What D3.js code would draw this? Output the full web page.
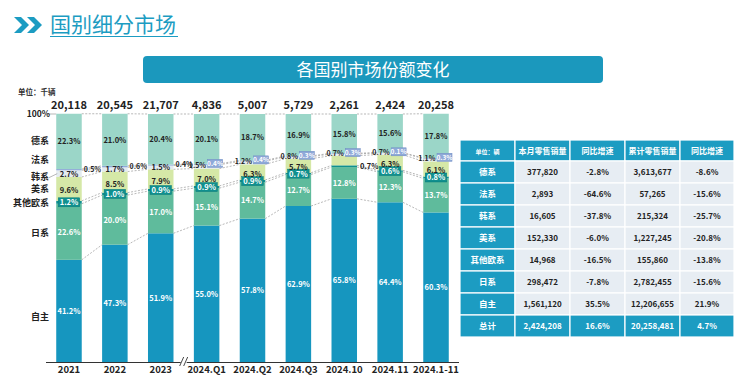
<!DOCTYPE html>
<html>
<head>
<meta charset="utf-8">
<script src="https://cdn.jsdelivr.net/npm/d3@7"></script>
<style>
  body { margin: 0; background: #fff; }
  svg { display: block; font-family: "Noto Sans CJK SC", "Noto Sans", sans-serif; }
</style>
</head>
<body>
<svg id="chart" width="744" height="376"></svg>
<script>
// categories and totals (千辆)
var categories = ["2021", "2022", "2023", "2024.Q1", "2024.Q2", "2024.Q3", "2024.10", "2024.11", "2024.1-11"];
var totals = ["20,118", "20,545", "21,707", "4,836", "5,007", "5,729", "2,261", "2,424", "20,258"];

// shares in %, stacked bottom -> top
var seriesNames = ["自主", "日系", "其他欧系", "美系", "韩系", "法系", "德系"];
var ziZhu   = [41.2, 47.3, 51.9, 55.0, 57.8, 62.9, 65.8, 64.4, 60.3];
var riXi    = [22.6, 20.0, 17.0, 15.1, 14.7, 12.7, 12.8, 12.3, 13.7];
var otherEu = [1.2, 1.0, 0.9, 0.9, 0.9, 0.7, 0.7, 0.6, 0.8];
var meiXi   = [9.6, 8.5, 7.9, 7.0, 6.3, 5.7, 3.9, 6.3, 6.1];
var hanXi   = [2.7, 1.7, 1.5, 1.5, 1.2, 0.8, 0.7, 0.7, 1.1];
var faXi    = [0.5, 0.6, 0.4, 0.4, 0.4, 0.3, 0.3, 0.1, 0.3];
var deXi    = [22.3, 21.0, 20.4, 20.1, 18.7, 16.9, 15.8, 15.6, 17.8];

// table
var tableHeaders = ["单位：辆", "本月零售销量", "同比增速", "累计零售销量", "同比增速"];
var tableRows = ["德系", "法系", "韩系", "美系", "其他欧系", "日系", "自主", "总计"];
var monthSales = ["377,820", "2,893", "16,605", "152,330", "14,968", "298,472", "1,561,120", "2,424,208"];
var monthYoY = ["-2.8%", "-64.6%", "-37.8%", "-6.0%", "-16.5%", "-7.8%", "35.5%", "16.6%"];
var ytdSales = ["3,613,677", "57,265", "215,324", "1,227,245", "155,860", "2,782,455", "12,206,655", "20,258,481"];
var ytdYoY = ["-8.6%", "-15.6%", "-25.7%", "-20.8%", "-13.8%", "-15.6%", "21.9%", "4.7%"];

var colors = {
  "自主": "#1696bf", "日系": "#5fbb9c", "其他欧系": "#10908f", "美系": "#d5e8a7",
  "韩系": "#e3ebf0", "法系": "#8fa9d8", "德系": "#9bd6c8"
};
var teal = "#1c9cc2";

var svg = d3.select("#chart");

// ---- page title ----
var title = svg.append("g");
title.append("path").attr("d", "M14,17 L21,17 L29,25 L21,33 L14,33 L22,25 Z").attr("fill", teal);
title.append("path").attr("d", "M27,17 L34,17 L42,25 L34,33 L27,33 L35,25 Z").attr("fill", teal);
title.append("text").attr("x", 50).attr("y", 32).attr("font-size", 21).attr("fill", teal)
  .text("国别细分市场");
title.append("line").attr("x1", 50).attr("x2", 178).attr("y1", 36.5).attr("y2", 36.5)
  .attr("stroke", teal).attr("stroke-width", 1.2);

// banner
svg.append("rect").attr("x", 143).attr("y", 56).attr("width", 460).attr("height", 27).attr("rx", 4)
  .attr("fill", "#1b98bd");
svg.append("text").attr("x", 373).attr("y", 75.5).attr("text-anchor", "middle")
  .attr("font-size", 17).attr("fill", "#fff").text("各国别市场份额变化");

svg.append("text").attr("x", 18).attr("y", 95).attr("font-size", 7.5).attr("font-weight", "bold")
  .attr("fill", "#333").text("单位：千辆");

// ---- stacked bars ----
var x = d3.scaleBand().domain(categories).range([46, 459]).paddingInner(0.444).paddingOuter(0.223);
var y = d3.scaleLinear().domain([0, 100]).range([362, 114]);
var bw = x.bandwidth();

var rows = categories.map(function (c, i) {
  return { cat: c, "自主": ziZhu[i], "日系": riXi[i], "其他欧系": otherEu[i], "美系": meiXi[i],
           "韩系": hanXi[i], "法系": faXi[i], "德系": deXi[i] };
});
var stack = d3.stack().keys(seriesNames)(rows);

// series lines (dashed connectors between bars)
var lineG = svg.append("g");
stack.forEach(function (s) {
  for (var i = 0; i < categories.length - 1; i++) {
    lineG.append("line")
      .attr("x1", x(categories[i]) + bw).attr("y1", y(s[i][1]))
      .attr("x2", x(categories[i + 1])).attr("y2", y(s[i + 1][1]))
      .attr("stroke", "#9a9a9a").attr("stroke-width", 0.7).attr("stroke-dasharray", "2,1.5");
  }
});
// 100% reference line from left label
svg.append("line").attr("x1", 46).attr("x2", x(categories[0])).attr("y1", y(100)).attr("y2", y(100))
  .attr("stroke", "#9a9a9a").attr("stroke-width", 0.7);

svg.append("g").selectAll("g").data(stack).enter().append("g")
  .attr("fill", function (d) { return colors[d.key]; })
  .selectAll("rect").data(function (d) { return d; }).enter().append("rect")
  .attr("x", function (d) { return x(d.data.cat); })
  .attr("y", function (d) { return y(d[1]); })
  .attr("width", bw)
  .attr("height", function (d) { return y(d[0]) - y(d[1]); });

// segment labels
var lab = svg.append("g").attr("font-size", 7.5).attr("font-weight", "bold");
function pct(v) { return v.toFixed(1) + "%"; }

stack.forEach(function (s) {
  s.forEach(function (d, i) {
    var v = d[1] - d[0];
    var x0 = x(d.data.cat);
    var cx = x0 + bw / 2;
    var cy = y((d[0] + d[1]) / 2);
    var key = s.key;
    if (key === "自主" || key === "日系") {
      lab.append("text").attr("x", cx).attr("y", cy + 3).attr("text-anchor", "middle")
        .attr("fill", "#fff").text(pct(v));
    } else if (key === "德系") {
      lab.append("text").attr("x", cx).attr("y", cy + 3).attr("text-anchor", "middle")
        .attr("fill", "#222").text(pct(v));
    } else if (key === "美系") {
      if (d.data.cat === "2024.10") return;
      lab.append("text").attr("x", cx).attr("y", cy + 4.5).attr("text-anchor", "middle")
        .attr("fill", "#222").text(pct(v));
    } else if (key === "其他欧系") {
      if (d.data.cat === "2024.10") {
        lab.append("text").attr("x", x0 + bw + 3).attr("y", cy + 3)
          .attr("fill", "#222").text(pct(v));
        return;
      }
      lab.append("rect").attr("x", x0 + 2).attr("y", cy - 4.5).attr("width", bw - 4).attr("height", 9)
        .attr("fill", colors["其他欧系"]).attr("stroke", "#0b7a7a").attr("stroke-width", 0.5);
      lab.append("text").attr("x", cx).attr("y", cy + 3).attr("text-anchor", "middle")
        .attr("fill", "#fff").text(pct(v));
    } else if (key === "韩系") {
      if (i < 3) {
        lab.append("text").attr("x", cx).attr("y", cy + 3).attr("text-anchor", "middle")
          .attr("fill", "#222").text(pct(v));
      } else {
        lab.append("text").attr("x", cx - 0.5).attr("y", cy + 1).attr("text-anchor", "end")
          .attr("font-size", 7).attr("fill", "#222").text(pct(v));
      }
    } else if (key === "法系") {
      if (i < 3) {
        lab.append("text").attr("x", x0 + bw + 2).attr("y", cy + 2)
          .attr("font-size", 7).attr("fill", "#222").text(pct(v));
      } else {
        lab.append("rect").attr("x", cx + 1).attr("y", cy - 5).attr("width", 15).attr("height", 8)
          .attr("fill", colors["法系"]).attr("stroke", "#6f8cc4").attr("stroke-width", 0.5);
        lab.append("text").attr("x", cx + 8.5).attr("y", cy + 1.5).attr("text-anchor", "middle")
          .attr("font-size", 6.5).attr("fill", "#fff").text(pct(v));
      }
    }
  });
});

// totals above bars
svg.append("g").selectAll("text").data(totals).enter().append("text")
  .attr("x", function (d, i) { return x(categories[i]) + bw / 2; })
  .attr("y", 109).attr("text-anchor", "middle")
  .attr("font-size", 11).attr("font-weight", "bold").attr("fill", "#222")
  .text(function (d) { return d; });

// left series names, placed at 2021 segment centres
var leftG = svg.append("g").attr("font-size", 9).attr("font-weight", "bold").attr("fill", "#222");
var nudge = { "自主": 6, "日系": 1, "其他欧系": 1, "美系": 0, "韩系": 3, "法系": -10, "德系": 0 };
stack.forEach(function (s) {
  var d = s[0];
  var cy = y((d[0] + d[1]) / 2) + nudge[s.key];
  leftG.append("text").attr("x", 49).attr("y", cy + 3).attr("text-anchor", "end").text(s.key);
  if (s.key === "韩系") {
    leftG.append("line").attr("x1", 49).attr("y1", cy + 1).attr("x2", x(categories[0]) + 1)
      .attr("y2", y((d[0] + d[1]) / 2)).attr("stroke", "#888").attr("stroke-width", 0.6);
  }
});
leftG.append("text").attr("x", 50).attr("y", y(100) + 3).attr("text-anchor", "end")
  .attr("font-size", 8.5).text("100%");

// x axis
var xAxis = svg.append("g").attr("transform", "translate(0,362)")
  .call(d3.axisBottom(x).tickSize(0).tickPadding(4));
xAxis.select(".domain").attr("d", "M46,0.5H459").attr("stroke", "#333").attr("stroke-width", 1.2);
xAxis.selectAll("text").attr("font-size", 9.5).attr("font-weight", "bold").attr("fill", "#222")
  .attr("font-family", "\"Noto Sans CJK SC\", sans-serif");

// axis break between 2023 and 2024.Q1
var bx = (x("2023") + bw + x("2024.Q1")) / 2;
svg.append("rect").attr("x", bx - 3).attr("y", 359).attr("width", 6).attr("height", 6).attr("fill", "#fff");
[-2, 2].forEach(function (o) {
  svg.append("line").attr("x1", bx + o - 2).attr("y1", 366).attr("x2", bx + o + 2).attr("y2", 357)
    .attr("stroke", "#333").attr("stroke-width", 0.9);
});

// ---- table ----
var colX = [460, 515, 570, 625, 680, 734];
var rowY0 = 140, headH = 21, rowH = 22;
var tbl = svg.append("g").attr("font-weight", "bold");

tableHeaders.forEach(function (h, j) {
  tbl.append("rect").attr("x", colX[j]).attr("y", rowY0).attr("width", colX[j + 1] - colX[j]).attr("height", headH)
    .attr("fill", teal).attr("stroke", "#fff").attr("stroke-width", 1.2);
  tbl.append("text").attr("x", (colX[j] + colX[j + 1]) / 2).attr("y", rowY0 + headH / 2 + 3)
    .attr("text-anchor", "middle").attr("fill", "#fff").attr("font-size", j === 0 ? 6 : 8).text(h);
});

var cols = [tableRows, monthSales, monthYoY, ytdSales, ytdYoY];
tableRows.forEach(function (r, i) {
  var ry = rowY0 + headH + i * rowH;
  var isTotal = i === tableRows.length - 1;
  cols.forEach(function (col, j) {
    var head = j === 0 || isTotal;
    tbl.append("rect").attr("x", colX[j]).attr("y", ry).attr("width", colX[j + 1] - colX[j]).attr("height", rowH)
      .attr("fill", head ? teal : "#e7edf3").attr("stroke", "#fff").attr("stroke-width", 1.2);
    tbl.append("text").attr("x", (colX[j] + colX[j + 1]) / 2).attr("y", ry + rowH / 2 + 3)
      .attr("text-anchor", "middle").attr("fill", head ? "#fff" : "#222")
      .attr("font-size", j === 0 ? 8.5 : 8).text(col[i]);
  });
});
</script>
</body>
</html>
